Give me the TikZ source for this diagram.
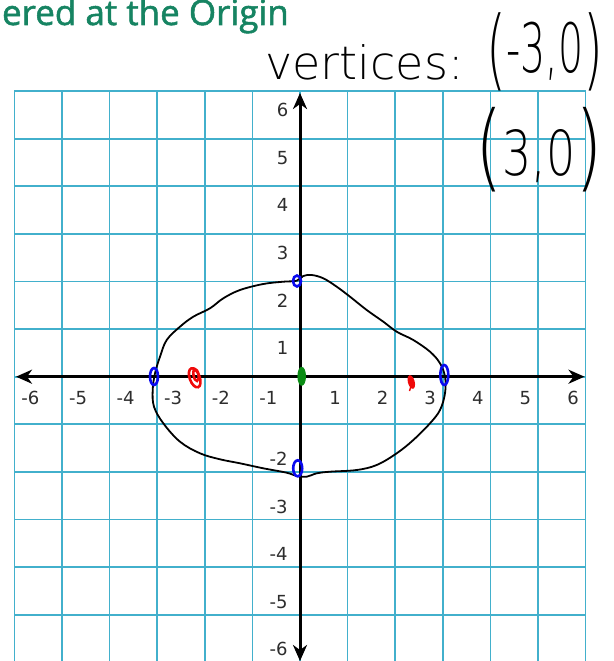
\documentclass[tikz,border=0pt]{standalone}
\usepackage{fontspec}
\usetikzlibrary{arrows.meta}
\newfontfamily\titlefont[FakeBold=1.5]{Open Sans}
\newfontfamily\labelfont{DejaVu Sans}
\newfontfamily\handfont{DejaVu Sans ExtraLight}
\definecolor{gridc}{RGB}{66,176,204}
\definecolor{titlec}{RGB}{22,132,98}
\definecolor{labc}{RGB}{45,45,45}
\definecolor{markblue}{RGB}{10,10,240}
\definecolor{markred}{RGB}{240,10,10}
\definecolor{markgreen}{RGB}{10,140,20}
\begin{document}
\begin{tikzpicture}[x=1pt,y=-1pt,
  gridline/.style={draw=gridc,line width=1.7pt},
  axistip/.tip={Stealth[length=16pt,width=14pt,inset=5pt]},
  axisline/.style={line width=3pt,axistip-axistip},
  ticklab/.style={font=\labelfont\fontsize{18}{18}\selectfont,text=labc,inner sep=0pt},
  curveline/.style={line width=1.8pt},
  penmark/.style={line width=2.6pt},
  handtext/.style={inner sep=0pt,text=black}]
\useasboundingbox (0,0) rectangle (613,661);
\fill[white] (0,0) rectangle (613,661);
% grid
\foreach \k in {-6,...,6}{
  \draw[gridline] ({300+47.6*\k},91.1) -- ({300+47.6*\k},664);
  \draw[gridline] (14.4,{376.7-47.6*\k}) -- (585.6,{376.7-47.6*\k});
}
% axes
\coordinate (xl) at (16,376.7);
\coordinate (xr) at (584.5,376.7);
\coordinate (yt) at (300,93);
\coordinate (yb) at (300,661);
\draw[axisline] (xl) -- (xr);
\draw[axisline] (yb) -- (yt);
% tick labels
\foreach \k in {1,...,6}{
  \node[ticklab] (xp\k) at ({300+47.6*\k-12.6},398.3) {\k};
  \node[ticklab] (xn\k) at ({300-47.6*\k+16},398.3) {-\k};
  \node[ticklab] (yp\k) at (282.7,{376.7-47.6*\k+19}) {\k};
}
\foreach \k in {2,...,6}{
  \node[ticklab] (yn\k) at (278.5,{376.7+47.6*\k-13}) {-\k};
}
% title
\node[anchor=base east,inner sep=0pt,text=titlec,font=\titlefont\fontsize{35}{35}\selectfont] (title) at (289,25) {ered at the Origin};
% handwriting
\node[handtext,anchor=base west] (vert) at (265,80) {{\handfont\fontsize{46}{46}\selectfont vertices:}\hspace{23pt}\scalebox{0.58}[1]{\handfont{\fontsize{88}{88}\selectfont(}\raisebox{7pt}{\fontsize{68}{68}\selectfont -3,0}{\fontsize{88}{88}\selectfont)}}};
\node[handtext,anchor=base west] (vert2) at (475,179) {\scalebox{0.74}[1]{\handfont{\fontsize{95}{95}\selectfont(}\raisebox{4pt}{\fontsize{62}{62}\selectfont 3,0}{\fontsize{95}{95}\selectfont)}}};
% ellipse
\draw[curveline] plot[smooth cycle,tension=0.6] coordinates {
(303.3,276) (311.7,275) (323.3,278.3) (336.7,286.7) (350,296.7) (366.7,310)
(383.3,321.7) (396.7,331.7) (413.3,340) (430,351.7) (440,363.3) (445,376.7)
(445,393.3) (440,410) (430,423.3) (413.3,440) (396.7,453.3) (376.7,465)
(356.7,470) (330,471.7) (316.7,473.3) (306.7,476.7) (296.7,476) (286.7,472.7)
(263.3,468.3) (240,463.3) (220,459.3) (200,453.3) (180,441.7) (163.3,423.3)
(154,406.7) (152.7,390) (155,373.3) (160,356.7) (166.7,340) (180,326.7)
(193.3,316.7) (210,308.3) (223.3,298.3) (240,290) (263.3,284) (283.3,281.7)
(296.7,280.7)};
% marks
\draw[penmark,markblue] (154,376.5) ellipse [x radius=4,y radius=8.5];
\draw[penmark,markblue] (444.3,375) ellipse [x radius=4,y radius=10];
\draw[penmark,markblue] (297,281) ellipse [x radius=4,y radius=5.5];
\draw[penmark,markblue] (297.7,468.3) ellipse [x radius=4.5,y radius=8];
\draw[penmark,markred,rotate around={20:(194.7,377.8)}] (194.7,377.8) ellipse [x radius=5,y radius=10];
\draw[penmark,markred,rotate around={10:(196,375)}] (196,375) ellipse [x radius=2.5,y radius=6];
\fill[markred,rotate around={15:(411.3,382)}] (411.3,382) ellipse [x radius=3.4,y radius=7];
\draw[line width=1.4pt,markred] (411,386) -- (409.5,391);
\fill[markgreen] (301.7,376.3) ellipse [x radius=4.3,y radius=9.5];
\end{tikzpicture}
\end{document}
